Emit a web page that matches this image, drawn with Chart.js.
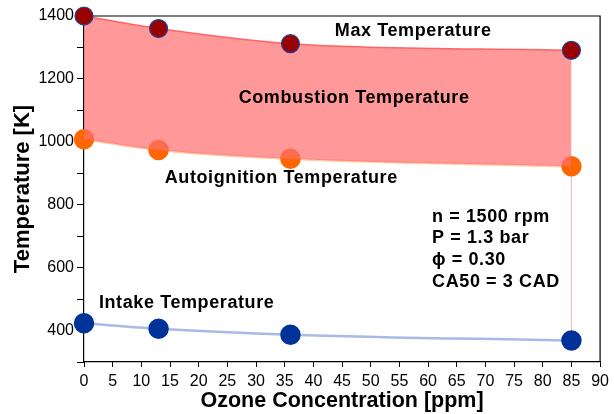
<!DOCTYPE html>
<html><head><meta charset="utf-8">
<script src="https://cdn.jsdelivr.net/npm/chart.js@4/dist/chart.umd.min.js"></script>
<style>html,body{margin:0;padding:0;background:#fff}#wrap{width:614px;height:414px}</style>
</head><body><div id="wrap"><canvas id="c" width="614" height="414"></canvas></div>
<script>
const ozone = [0, 13, 36, 85];
const maxTemp = [1400, 1360, 1312, 1291];
const autoTemp = [1008, 974, 946, 922];
const intakeTemp = [423, 406, 387, 368];
const xTicks = [0,5,10,15,20,25,30,35,40,45,50,55,60,65,70,75,80,85,90];
const yLabels = [400,600,800,1000,1200,1400];
const infoLines = ['n = 1500 rpm','P = 1.3 bar','\u03d5 = 0.30','CA50 = 3 CAD'];

const pts = (ys) => ozone.map((x,i)=>({x, y: ys[i]}));
const FONT = '"Liberation Sans", Arial, sans-serif';

const labelPlugin = {
  id: 'labels',
  beforeDatasetsDraw(chart){
    const {ctx, chartArea:a} = chart;
    ctx.save();
    ctx.strokeStyle = '#000'; ctx.lineWidth = 1.2;
    ctx.beginPath();
    ctx.moveTo(a.left, a.top); ctx.lineTo(a.right, a.top); ctx.lineTo(a.right, a.bottom);
    ctx.stroke();
    ctx.restore();
  },
  afterDatasetsDraw(chart){
    const {ctx, scales:{x,y}} = chart;
    ctx.save();
    ctx.fillStyle = '#000';
    ctx.font = 'bold 18px ' + FONT;
    try { ctx.letterSpacing = '0.6px'; } catch(e) {}
    ctx.textBaseline = 'middle';
    ctx.textAlign = 'center';
    ctx.fillText('Max Temperature', x.getPixelForValue(57.4), y.getPixelForValue(1352));
    ctx.fillText('Combustion Temperature', x.getPixelForValue(47.1), y.getPixelForValue(1138));
    ctx.fillText('Autoignition Temperature', x.getPixelForValue(34.4), y.getPixelForValue(886));
    ctx.textAlign = 'left';
    ctx.fillText('Intake Temperature', x.getPixelForValue(2.6), y.getPixelForValue(489));
    const lx = x.getPixelForValue(60.7);
    infoLines.forEach((t,i)=>{
      ctx.fillText(t, lx, y.getPixelForValue(762 - i*69));
    });
    ctx.restore();
  }
};

new Chart(document.getElementById('c'), {
  type: 'scatter',
  data: {
    datasets: [
      { label: 'Max', data: pts(maxTemp), showLine: true, cubicInterpolationMode: 'monotone', clip: false,
        borderColor: 'rgba(255,90,90,0.9)', borderWidth: 1.5,
        backgroundColor: 'rgba(255,110,110,0.7)', fill: '+1',
        pointBackgroundColor: '#990000', pointBorderColor: '#1f3f9f', pointBorderWidth: 1.2, pointRadius: 9 },
      { label: 'Auto', data: pts(autoTemp), showLine: true, cubicInterpolationMode: 'monotone', clip: false,
        borderColor: 'rgba(255,200,160,0.9)', borderWidth: 2.5, fill: false,
        pointBackgroundColor: '#ff6600', pointBorderColor: '#ff6600', pointRadius: 9 },
      { label: 'Intake', data: pts(intakeTemp), showLine: true, cubicInterpolationMode: 'monotone', clip: false,
        borderColor: 'rgba(160,180,225,0.9)', borderWidth: 2.5, fill: false,
        pointBackgroundColor: '#003399', pointBorderColor: '#003399', pointRadius: 9 },
      { label: 'edge', data: [{x: ozone[3], y: autoTemp[3]}, {x: ozone[3], y: intakeTemp[3]}], showLine: true,
        borderColor: 'rgba(255,180,180,0.6)', borderWidth: 1, pointRadius: 0, fill: false }
    ]
  },
  options: {
    responsive: false, animation: false,
    layout: { padding: { top: 16, right: 11, left: 0, bottom: 0 } },
    plugins: { legend: { display: false }, tooltip: { enabled: false } },
    scales: {
      x: { type: 'linear', min: 0, max: 90,
        afterBuildTicks: s => { s.ticks = xTicks.map(v=>({value:v})); },
        afterFit: s => { s.height = 52; },
        grid: { drawOnChartArea: false, drawTicks: true, tickLength: 5, color: '#000', tickWidth: 1 },
        border: { display: true, color: '#000', width: 1.2 },
        ticks: { color: '#000', font: { family: FONT, size: 16 }, padding: 5, maxRotation: 0, autoSkip: false },
        title: { display: true, text: 'Ozone Concentration [ppm]', color: '#000', font: { family: FONT, size: 21.5, weight: 'bold' }, padding: { top: 0, bottom: 0 } }
      },
      y: { type: 'linear', min: 300, max: 1400,
        afterBuildTicks: s => { const t=[]; for (let v=300; v<=1400; v+=100) t.push({value:v}); s.ticks = t; },
        afterFit: s => { s.width = 84; },
        grid: { drawOnChartArea: false, drawTicks: true, tickLength: 7, color: '#000', tickWidth: 1 },
        border: { display: true, color: '#000', width: 1.2 },
        ticks: { color: '#000', font: { family: FONT, size: 16 }, padding: 3, autoSkip: false,
          callback: v => yLabels.includes(v) ? String(v) : '' },
        title: { display: true, text: 'Temperature [K]', color: '#000', font: { family: FONT, size: 22, weight: 'bold' }, padding: { top: 10, bottom: 0 } }
      }
    }
  },
  plugins: [labelPlugin]
});
</script></body></html>
